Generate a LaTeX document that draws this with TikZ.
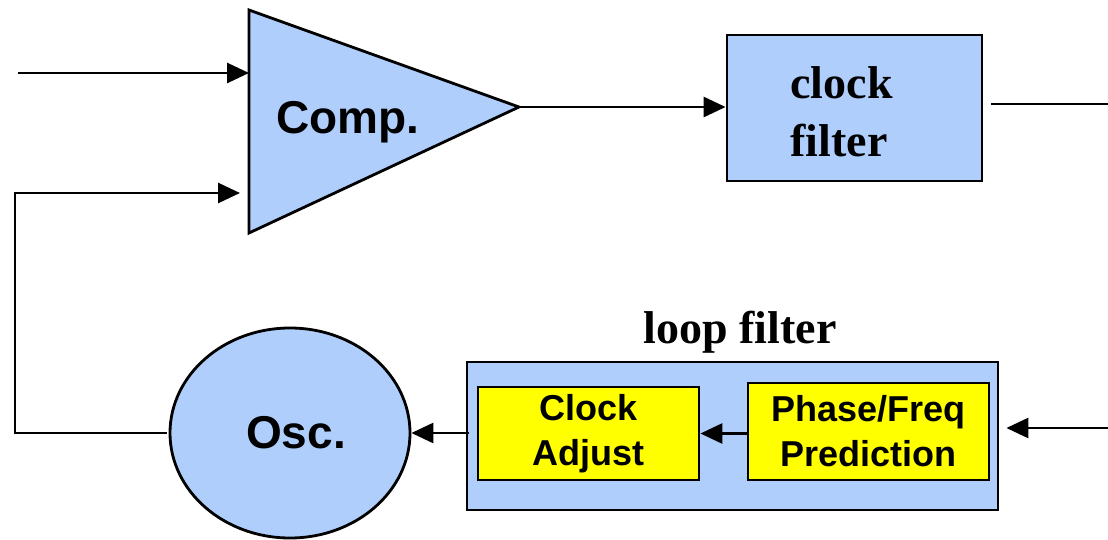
\documentclass[tikz,border=0pt]{standalone}
\usepackage{fontspec}
\setmainfont{Liberation Serif}
\setsansfont{Liberation Sans}
\usetikzlibrary{arrows.meta,shapes.geometric,positioning}
\definecolor{blockblue}{RGB}{176,206,252}
\definecolor{blockyellow}{RGB}{255,255,0}

\begin{document}
\begin{tikzpicture}[x=1pt,y=-1pt,line width=2.8pt,
  blk/.style={draw=black,fill=blockblue,inner sep=0pt},
  ybox/.style={draw=black,fill=blockyellow,inner sep=0pt,align=center,
    font=\fontsize{36}{45}\selectfont\sffamily\bfseries},
  bigsans/.style={font=\fontsize{46}{52}\selectfont\sffamily\bfseries,inner sep=0pt},
  bigserif/.style={font=\fontsize{46}{58}\selectfont\rmfamily\bfseries,inner sep=0pt},
  arr/.style={-{Triangle[length=22pt,width=20pt]}}]
\useasboundingbox (0,0) rectangle (1108,540);

% comparator
\coordinate (cmptop) at (249,10);
\coordinate (cmpbot) at (249,233);
\coordinate (cmptip) at (519,107);
\draw [fill=blockblue] (cmptop) -- (cmptip) -- (cmpbot) -- cycle;
\node [bigsans] (cmp) at (348,122) {Comp.};

% clock filter
\node [blk,minimum width=255,minimum height=146] (clkfilt) at (854.5,108) {};
\node [bigserif,align=left,anchor=west] (clkfilttxt) at (789,112) {clock\\filter};

% oscillator
\node [blk,ellipse,minimum width=240,minimum height=210] (osc) at (290,433) {};
\node [bigsans] (osctxt) at (296,433) {Osc.};

% loop filter
\node [bigserif,anchor=base] (looptxt) at (740,343) {loop filter};
\node [blk,minimum width=531,minimum height=148] (loop) at (732.5,436) {};
\node [ybox,minimum width=221,minimum height=93] (adj) at (588.5,433.5) {Clock\\Adjust};
\node [ybox,minimum width=241,minimum height=97] (pred) at (868.5,431.5) {Phase/Freq\\Prediction};

% connectors
\coordinate (inp) at (18,73);
\coordinate (fbend) at (240,193);
\coordinate (outp) at (1108,104);
\coordinate (lpin) at (1108,428);
\draw [arr] (inp) -- (inp -| cmptop);
\draw [arr] ([xshift=-2]osc.west) -- (15,433) |- (fbend);
\draw [arr] (cmptip) -- (clkfilt.west |- cmptip);
\draw ([xshift=8]clkfilt.east |- outp) -- (outp);
\draw [arr] (lpin) -- ([xshift=7]loop.east |- lpin);
\draw [arr] (pred.west |- adj.east) -- (adj.east);
\draw [arr] ([xshift=3]loop.west |- osc.east) -- (osc.east);
\end{tikzpicture}
\end{document}
